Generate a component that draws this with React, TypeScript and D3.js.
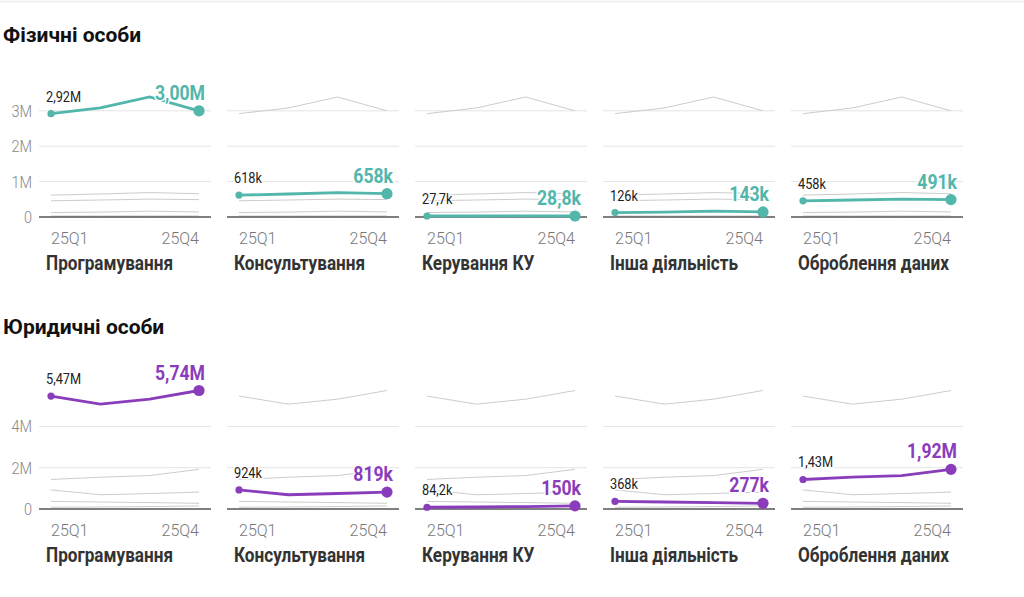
import React from 'react';
import * as d3 from 'd3';

// quarters on the x axis
const quarters = ['25Q1', '25Q2', '25Q3', '25Q4'];
const categories = ['Програмування', 'Консультування', 'Керування КУ', 'Інша діяльність', 'Оброблення даних'];

// Фізичні особи (individuals), one array per category
const indProgramming = [2920000, 3080000, 3390000, 3000000];
const indConsulting = [618000, 650000, 690000, 658000];
const indManagement = [27700, 28300, 29600, 28800];
const indOther = [126000, 138000, 165000, 143000];
const indData = [458000, 480000, 505000, 491000];

// Юридичні особи (legal entities)
const legProgramming = [5470000, 5080000, 5320000, 5740000];
const legConsulting = [924000, 690000, 750000, 819000];
const legManagement = [84200, 98000, 118000, 150000];
const legOther = [368000, 340000, 310000, 277000];
const legData = [1430000, 1540000, 1620000, 1920000];

const rowTitles = ['Фізичні особи', 'Юридичні особи'];
const rowTicks = [[0, 1000000, 2000000, 3000000], [0, 2000000, 4000000]];
const rowColors = ['#52b6ab', '#8a3dbb'];

const rows = [
  [indProgramming, indConsulting, indManagement, indOther, indData],
  [legProgramming, legConsulting, legManagement, legOther, legData],
];

const FONT = 'Roboto, sans-serif';
const SQUEEZE = 0.88; // fake a condensed face, Roboto Condensed isn't installed

const fmtValue = (v: number) => {
  if (v >= 1e6) return (v / 1e6).toFixed(2).replace('.', ',') + 'M';
  if (v >= 1e5) return Math.round(v / 1e3) + 'k';
  return (v / 1e3).toFixed(1).replace('.', ',') + 'k';
};
const fmtTick = (v: number) => (v === 0 ? '0' : v / 1e6 + 'M');

// condensed text: positioned with a transform, squeezed horizontally
const CText: React.FC<any> = ({ x, y, children, ...rest }) => (
  <text transform={`translate(${x},${y}) scale(${SQUEEZE},1)`} fontFamily={FONT} {...rest}>
    {children}
  </text>
);

const halo = { stroke: '#fff', strokeWidth: 3, paintOrder: 'stroke', strokeLinejoin: 'round' } as const;

const App: React.FC = () => {
  const width = 1024;
  const height = 597;
  const rowOffset = 292;
  const panelStep = 188;
  const panelW = 172;
  const plotLeft = 39;

  const line = d3.line<[number, number]>().x(d => d[0]).y(d => d[1]);

  return (
    <svg width={width} height={height} style={{ position: 'absolute', left: 0, top: 0, background: '#fff' }}>
      <line x1={0} x2={width} y1={1.5} y2={1.5} stroke="#ececec" strokeWidth={1.5} />
      {rows.map((series, r) => {
        const baseY = 217 + r * rowOffset;
        const plotH = r === 0 ? 120 : 118.5;
        const max = d3.max(series.flat()) as number;
        const y = d3.scaleLinear().domain([0, max]).range([baseY, baseY - plotH]);
        const color = rowColors[r];
        return (
          <g key={r}>
            <text x={3} y={42 + r * rowOffset} fontFamily={FONT} fontWeight={700} fontSize={21} fill="#111">
              {rowTitles[r]}
            </text>
            {series.map((vals, c) => {
              const x0 = plotLeft + c * panelStep;
              const x = d3.scalePoint<string>().domain(quarters).range([x0 + 12, x0 + panelW - 12]);
              const pts = (v: number[]) => v.map((d, i) => [x(quarters[i]) as number, y(d)] as [number, number]);
              const first = vals[0];
              const last = vals[vals.length - 1];
              const xf = x(quarters[0]) as number;
              const xl = x(quarters[quarters.length - 1]) as number;
              return (
                <g key={c}>
                  {rowTicks[r].filter(t => t > 0).map(t => (
                    <line key={t} x1={x0} x2={x0 + panelW} y1={y(t)} y2={y(t)} stroke="#e4e4e4" strokeWidth={1} />
                  ))}
                  {c === 0 && rowTicks[r].map(t => (
                    <CText key={t} x={32} y={y(t)} dy="0.36em" textAnchor="end" fontWeight={300}
                      fontSize={16.5} fill="#888">
                      {fmtTick(t)}
                    </CText>
                  ))}
                  {series.map((other, k) => k !== c && (
                    <path key={k} d={line(pts(other)) as string} fill="none" stroke="#cccccc" strokeWidth={1} />
                  ))}
                  <line x1={x0} x2={x0 + panelW} y1={baseY} y2={baseY} stroke="#555" strokeWidth={1.6} />
                  <path d={line(pts(vals)) as string} fill="none" stroke={color} strokeWidth={2.8} />
                  <circle cx={xf} cy={y(first)} r={3.6} fill={color} />
                  <circle cx={xl} cy={y(last)} r={5.6} fill={color} />
                  <CText x={xf - 5} y={y(first) - 12} fontSize={14.5} fill="#222" {...halo}>
                    {fmtValue(first)}
                  </CText>
                  <CText x={xl + 6} y={y(last) - 11} textAnchor="end" fontWeight={700} fontSize={20}
                    fill={color} {...halo}>
                    {fmtValue(last)}
                  </CText>
                  <text x={xf} y={243.5 + r * rowOffset} fontFamily={FONT} fontWeight={300} fontSize={16} fill="#777">
                    {quarters[0]}
                  </text>
                  <text x={xl} y={243.5 + r * rowOffset} textAnchor="end" fontFamily={FONT} fontWeight={300}
                    fontSize={16} fill="#777">
                    {quarters[quarters.length - 1]}
                  </text>
                  <CText x={xf - 5} y={269.5 + r * rowOffset} fontWeight={700} fontSize={19.5} fill="#333">
                    {categories[c]}
                  </CText>
                </g>
              );
            })}
          </g>
        );
      })}
    </svg>
  );
};

export default App;
